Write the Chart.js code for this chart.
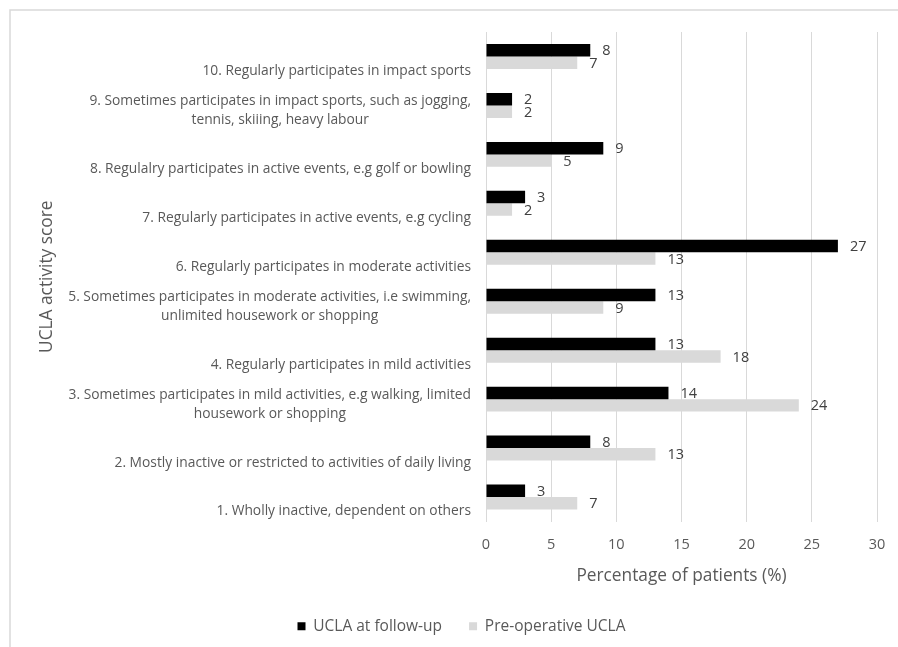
<!DOCTYPE html>
<html><head><meta charset="utf-8">
<script src="https://cdn.jsdelivr.net/npm/chart.js@4"></script>
<style>html,body{margin:0;padding:0;background:#fff}</style>
</head><body>
<canvas id="c" width="898" height="647"></canvas>
<script>
const categories = [
  ['10. Regularly participates in impact sports'],
  ['9. Sometimes participates in impact sports, such as jogging,', 'tennis, skiiing, heavy labour'],
  ['8. Regulalry participates in active events, e.g golf or bowling'],
  ['7. Regularly participates in active events, e.g cycling'],
  ['6. Regularly participates in moderate activities'],
  ['5. Sometimes participates in moderate activities, i.e swimming,', 'unlimited housework or shopping'],
  ['4. Regularly participates in mild activities'],
  ['3. Sometimes participates in mild activities, e.g walking, limited', 'housework or shopping'],
  ['2. Mostly inactive or restricted to activities of daily living'],
  ['1. Wholly inactive, dependent on others']
];
const followUp = [8, 2, 9, 3, 27, 13, 13, 14, 8, 3];
const preOp = [7, 2, 5, 2, 13, 9, 18, 24, 13, 7];
const xTicks = [0, 5, 10, 15, 20, 25, 30];
const seriesNames = ['UCLA at follow-up', 'Pre-operative UCLA'];

const FONT = '"Open Sans"';
const TEXT = '#595959';
const GRID = '#d9d9d9';

const frame = {
  id: 'frame',
  beforeDraw(chart) {
    const ctx = chart.ctx;
    ctx.save();
    ctx.fillStyle = '#fff';
    ctx.fillRect(0, 0, chart.width, chart.height);
    ctx.strokeStyle = GRID;
    ctx.lineWidth = 1.5;
    ctx.beginPath();
    ctx.moveTo(10, chart.height);
    ctx.lineTo(10, 10);
    ctx.lineTo(chart.width, 10);
    ctx.stroke();
    ctx.restore();
  }
};

const catLabels = {
  id: 'catLabels',
  afterDraw(chart) {
    const ctx = chart.ctx;
    const ys = chart.scales.y;
    const right = chart.chartArea.left - 15;
    ctx.save();
    ctx.font = '13.8px ' + FONT;
    ctx.fillStyle = TEXT;
    ctx.textBaseline = 'middle';
    ctx.textAlign = 'center';
    categories.forEach((lines, i) => {
      const yc = ys.getPixelForValue(i);
      const w = Math.max(...lines.map(l => ctx.measureText(l).width));
      const cx = right - w / 2;
      lines.forEach((l, k) => {
        const y = yc + 14.5 - (lines.length - 1 - k) * 18.5;
        ctx.fillText(l, cx, y);
      });
    });
    ctx.restore();
  }
};

const valueLabels = {
  id: 'valueLabels',
  afterDatasetsDraw(chart) {
    const ctx = chart.ctx;
    ctx.save();
    ctx.font = '14.5px ' + FONT;
    ctx.fillStyle = '#404040';
    ctx.textBaseline = 'middle';
    ctx.textAlign = 'left';
    chart.data.datasets.forEach((ds, di) => {
      chart.getDatasetMeta(di).data.forEach((bar, i) => {
        ctx.fillText(String(ds.data[i]), bar.x + 12, bar.y + 1);
      });
    });
    ctx.restore();
  }
};

const legendShift = {
  id: 'legendShift',
  afterLayout(chart) {
    const lg = chart.legend;
    if (lg) { lg.left += 18; lg.right += 18; }
  }
};

new Chart(document.getElementById('c'), {
  type: 'bar',
  data: {
    labels: categories.map(c => c.join(' ')),
    datasets: [
      { label: seriesNames[0], data: followUp, backgroundColor: '#000000', borderWidth: 0 },
      { label: seriesNames[1], data: preOp, backgroundColor: '#d9d9d9', borderWidth: 0 }
    ]
  },
  options: {
    indexAxis: 'y',
    responsive: false,
    animation: false,
    devicePixelRatio: 1,
    categoryPercentage: 0.51,
    barPercentage: 1.0,
    layout: { padding: { left: 10, right: 21, top: 32, bottom: 3 } },
    scales: {
      x: {
        min: 0, max: 30,
        afterBuildTicks(s) { s.ticks = xTicks.map(v => ({ value: v })); },
        afterFit(s) { s.paddingLeft = 0; s.paddingRight = 0; s.height = 70; },
        grid: { color: GRID, lineWidth: 1, drawTicks: false },
        border: { display: false },
        ticks: { color: TEXT, font: { family: FONT, size: 14.5 }, padding: 15 },
        title: { display: true, text: 'Percentage of patients (%)', color: TEXT, font: { family: FONT, size: 17.3 }, padding: { top: 0, bottom: 5 } }
      },
      y: {
        afterFit(s) { s.width = 486 - 10; },
        grid: { display: false },
        border: { display: false },
        ticks: { display: false },
        title: { display: true, text: 'UCLA activity score', color: TEXT, font: { family: FONT, size: 17.3 }, padding: { top: 26.5, bottom: 0 } }
      }
    },
    plugins: {
      legend: {
        position: 'bottom',
        labels: { color: TEXT, font: { family: FONT, size: 15.5 }, boxWidth: 8, boxHeight: 8, padding: 27 }
      },
      tooltip: { enabled: false }
    }
  },
  plugins: [frame, catLabels, valueLabels, legendShift]
});
</script>
</body></html>
